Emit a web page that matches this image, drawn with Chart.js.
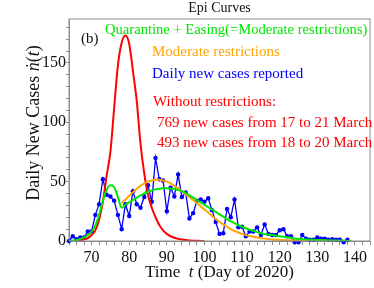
<!DOCTYPE html>
<html>
<head>
<meta charset="utf-8">
<script src="https://cdn.jsdelivr.net/npm/chart.js@4.4.1/dist/chart.umd.min.js"></script>
<style>
  body { margin: 0; background: #fff; }
  #wrap { width: 374px; height: 288px; }
</style>
</head>
<body>
<div id="wrap"><canvas id="epiChart" width="374" height="288"></canvas></div>
<script>
  // Daily new cases reported, one value per day starting at day 64
  const reportedFirstDay = 64;
  const reportedCases = [
    0, 4, 1.5, 3, 3, 8, 8, 22, 31, 52,
    39, 37.5, 34, 22, 10, 31, 21, 42, 31, 28,
    37, 47, 33, 70, 52, 51, 25, 45, 37.5, 56,
    37, 41, 19, 23.5, 34, 35, 33, 36, 26, 16,
    6, 6.5, 27, 20, 35, 11.5, 12, 4, 8, 8,
    11.5, 5, 14, 6, 5, 5, 9, 10, 4, 4,
    -1, -1, 5, 2, 1, 1, 3, 2, 2, 1,
    1.5, 1, 1, -1, 1
  ];

  // Model: without restrictions
  const noRestrictionDays = [66, 67, 68, 69, 70, 71, 72, 73, 74, 75, 76, 77, 78, 79, 80, 81, 82, 83, 84, 85,
    86, 87, 88, 89, 90, 91, 92, 93, 94, 95, 96, 98, 100];
  const noRestrictionCases = [0.3, 0.6, 1.2, 2.5, 5, 9, 18, 33, 55, 75, 112, 148, 167, 173, 166, 143, 118, 82, 57, 39,
    28, 20, 13.5, 9, 6, 4, 2.7, 1.8, 1.2, 0.8, 0.5, 0.2, 0];

  // Model: moderate restrictions
  const moderateDays = [78, 79, 80, 81, 82, 83, 84, 85, 86, 87, 88, 89, 90, 91, 92, 93, 94, 95, 96, 97,
    98, 99, 100, 101, 102, 103, 104, 105, 106, 107, 108, 109, 110, 112, 114, 116, 118, 120, 122, 125,
    128, 131, 134, 137, 139];
  const moderateCases = [32, 35, 38, 41, 44, 46.5, 48.5, 50, 51, 51.5, 51.5, 51, 50, 48.5, 46.5, 44.5, 42, 39.5, 37, 34.5,
    32, 29, 26.5, 24, 21, 18.5, 16, 14, 12, 10, 8.5, 7.2, 6, 4.2, 3, 2, 1.3, 0.9, 0.6, 0.3,
    0.15, 0.08, 0.04, 0.02, 0];

  // Model: quarantine + easing
  const easingDays = [64, 65, 66, 67, 68, 69, 70, 71, 72, 73, 74, 75, 76, 77, 78, 79, 80, 81, 82, 83,
    84, 85, 86, 87, 88, 89, 90, 91, 92, 93, 94, 95, 96, 97, 98, 99, 100, 101, 102, 103,
    104, 105, 106, 107, 108, 109, 110, 112, 114, 116, 118, 120, 122, 125, 128, 131, 134, 137, 139];
  const easingCases = [0, 0.3, 0.8, 1.8, 3, 5, 8, 13, 22, 34, 43, 47, 45.5, 37, 28, 30.5, 32.5, 34.5, 36.5, 38.5,
    40, 41.5, 42.5, 43.5, 44, 44.5, 44.5, 44.3, 43.8, 43, 42, 40.5, 38.5, 36.5, 34.5, 32.5, 30.5, 28.5, 26.5, 24.5,
    22.5, 20.5, 18.5, 16.5, 15, 13.5, 12, 9.5, 7.5, 5.8, 5, 4, 3.2, 1.6, 1.1, 0.8, 0.5, 0.2, 0];

  const xTickLabels = [70, 80, 90, 100, 110, 120, 130, 140];
  const yTickLabels = [0, 50, 100, 150];

  const SERIF = "'Liberation Serif', 'DejaVu Serif', serif";
  const GREEN = '#00e600';
  const ORANGE = '#ffa500';
  const BLUE = '#0000ff';
  const RED = '#ff0000';
  const FRAME = '#8c8c8c';

  function toPoints(days, values) {
    return days.map((d, i) => ({ x: d, y: values[i] }));
  }

  // draws a run of text pieces, some italic, starting at x
  function drawParts(ctx, parts, x, y, size, align) {
    let total = 0;
    parts.forEach(p => {
      ctx.font = (p[1] ? 'italic ' : '') + size + 'px ' + SERIF;
      total += ctx.measureText(p[0]).width;
    });
    let cx = align === 'center' ? x - total / 2 : x;
    ctx.textAlign = 'left';
    parts.forEach(p => {
      ctx.font = (p[1] ? 'italic ' : '') + size + 'px ' + SERIF;
      ctx.fillText(p[0], cx, y);
      cx += ctx.measureText(p[0]).width;
    });
  }

  const framePlugin = {
    id: 'frame',
    afterDatasetsDraw(chart) {
      const a = chart.chartArea;
      const ctx = chart.ctx;
      ctx.save();
      ctx.strokeStyle = FRAME;
      ctx.lineWidth = 1;
      ctx.strokeRect(a.left, a.top, a.right - a.left, a.bottom - a.top);
      ctx.restore();
    }
  };

  const textPlugin = {
    id: 'texts',
    afterDraw(chart) {
      const ctx = chart.ctx;
      const a = chart.chartArea;
      ctx.save();
      ctx.textBaseline = 'alphabetic';

      ctx.fillStyle = '#111';
      drawParts(ctx, [['Epi Curves', false]], (a.left + a.right) / 2, 12, 14, 'center');

      drawParts(ctx, [['Time  ', false], ['t', true], [' (Day of 2020)', false]], (a.left + a.right) / 2, 277, 17, 'center');

      ctx.save();
      ctx.translate(39, 123);
      ctx.rotate(-Math.PI / 2);
      drawParts(ctx, [['Daily New Cases ', false], ['\u1E45', true], ['(', false], ['t', true], [')', false]], 0, 0, 18, 'center');
      ctx.restore();

      ctx.fillStyle = '#111';
      drawParts(ctx, [['(b)', false]], 81, 43, 15, 'left');

      ctx.fillStyle = GREEN;
      drawParts(ctx, [['Quarantine + Easing(=Moderate restrictions)', false]], 105, 34, 14.6, 'left');
      ctx.fillStyle = ORANGE;
      drawParts(ctx, [['Moderate restrictions', false]], 152, 56, 15, 'left');
      ctx.fillStyle = BLUE;
      drawParts(ctx, [['Daily new cases reported', false]], 152, 78, 15, 'left');
      ctx.fillStyle = RED;
      drawParts(ctx, [['Without restrictions:', false]], 153, 106, 15, 'left');
      drawParts(ctx, [['769 new cases from 17 to 21 March', false]], 157, 127, 15, 'left');
      drawParts(ctx, [['493 new cases from 18 to 20 March', false]], 157, 147, 15, 'left');
      ctx.restore();
    }
  };

  function initializeChart() {
    const ctx = document.getElementById('epiChart').getContext('2d');
    const reportedPoints = reportedCases.map((v, i) => ({ x: reportedFirstDay + i, y: v }));

    new Chart(ctx, {
      type: 'line',
      data: {
        datasets: [{
          label: 'Quarantine + Easing',
          data: toPoints(easingDays, easingCases),
          borderColor: GREEN,
          borderWidth: 2,
          pointRadius: 0,
          cubicInterpolationMode: 'monotone'
        }, {
          label: 'Moderate restrictions',
          data: toPoints(moderateDays, moderateCases),
          borderColor: ORANGE,
          borderWidth: 2,
          pointRadius: 0,
          cubicInterpolationMode: 'monotone'
        }, {
          label: 'Without restrictions',
          data: toPoints(noRestrictionDays, noRestrictionCases),
          borderColor: RED,
          borderWidth: 2,
          pointRadius: 0,
          cubicInterpolationMode: 'monotone'
        }, {
          label: 'Daily new cases reported',
          data: reportedPoints,
          borderColor: BLUE,
          backgroundColor: BLUE,
          borderWidth: 1.3,
          pointRadius: 2.2,
          pointBorderWidth: 0,
          pointBackgroundColor: BLUE,
          tension: 0,
          clip: false
        }]
      },
      options: {
        responsive: false,
        animation: false,
        layout: { padding: { left: 0, right: 2, top: 19, bottom: 0 } },
        plugins: {
          legend: { display: false },
          tooltip: { enabled: false },
          title: { display: false }
        },
        scales: {
          x: {
            type: 'linear',
            min: 64,
            max: 144,
            afterBuildTicks: scale => {
              const ticks = [];
              for (let d = 64; d <= 144; d += 2) ticks.push({ value: d });
              scale.ticks = ticks;
            },
            afterFit: scale => { scale.height = 47; },
            ticks: {
              autoSkip: false,
              maxRotation: 0,
              padding: 3,
              color: '#111',
              font: { family: SERIF, size: 16 },
              callback: value => xTickLabels.includes(value) ? String(value) : ''
            },
            grid: { drawOnChartArea: false, tickLength: 4, color: FRAME },
            border: { color: FRAME }
          },
          y: {
            min: 0,
            max: 187,
            afterBuildTicks: scale => {
              const ticks = [];
              for (let v = 0; v <= 180; v += 10) ticks.push({ value: v });
              scale.ticks = ticks;
            },
            afterFit: scale => { scale.width = 69; },
            ticks: {
              autoSkip: false,
              padding: 0,
              color: '#111',
              font: { family: SERIF, size: 16 },
              callback: value => yTickLabels.includes(value) ? String(value) : ''
            },
            grid: { drawOnChartArea: false, tickLength: 3, color: FRAME },
            border: { color: FRAME }
          }
        }
      },
      plugins: [framePlugin, textPlugin]
    });
  }

  window.addEventListener('DOMContentLoaded', initializeChart);
</script>
</body>
</html>
